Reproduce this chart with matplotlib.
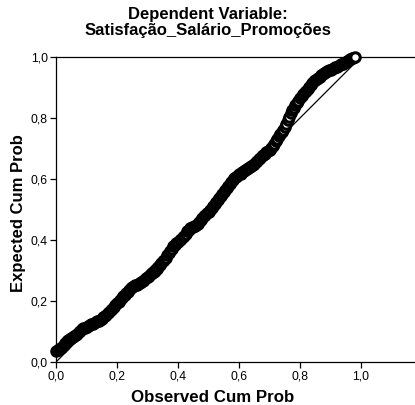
import matplotlib
matplotlib.use("Agg")
import matplotlib.pyplot as plt

title_lines = ["Dependent Variable:", "Satisfação_Salário_Promoções"]
x_label = "Observed Cum Prob"
y_label = "Expected Cum Prob"
tick_values = [0.0, 0.2, 0.4, 0.6, 0.8, 1.0]
tick_labels = ["0,0", "0,2", "0,4", "0,6", "0,8", "1,0"]

observed = [
    0.000, 0.005, 0.010, 0.015, 0.020, 0.025, 0.030, 0.035, 0.040, 0.045,
    0.050, 0.055, 0.060, 0.065, 0.070, 0.075, 0.080, 0.085, 0.090, 0.095,
    0.100, 0.105, 0.110, 0.115, 0.120, 0.125, 0.130, 0.135, 0.140, 0.145,
    0.150, 0.155, 0.160, 0.165, 0.170, 0.175, 0.180, 0.185, 0.190, 0.195,
    0.200, 0.205, 0.210, 0.215, 0.220, 0.225, 0.230, 0.235, 0.240, 0.245,
    0.250, 0.255, 0.260, 0.265, 0.270, 0.275, 0.280, 0.285, 0.290, 0.295,
    0.300, 0.305, 0.310, 0.315, 0.320, 0.325, 0.330, 0.335, 0.340, 0.345,
    0.350, 0.355, 0.360, 0.365, 0.370, 0.375, 0.380, 0.385, 0.390, 0.395,
    0.400, 0.405, 0.410, 0.415, 0.420, 0.425, 0.430, 0.435, 0.440, 0.445,
    0.450, 0.455, 0.460, 0.465, 0.470, 0.475, 0.480, 0.485, 0.490, 0.495,
    0.500, 0.505, 0.510, 0.515, 0.520, 0.525, 0.530, 0.535, 0.540, 0.545,
    0.550, 0.555, 0.560, 0.565, 0.570, 0.575, 0.580, 0.585, 0.590, 0.595,
    0.600, 0.605, 0.610, 0.615, 0.620, 0.625, 0.630, 0.635, 0.640, 0.645,
    0.650, 0.655, 0.660, 0.665, 0.670, 0.675, 0.680, 0.685, 0.690, 0.695,
    0.700, 0.705, 0.710, 0.715, 0.720, 0.725, 0.730, 0.735, 0.740, 0.745,
    0.750, 0.755, 0.760, 0.765, 0.770, 0.775, 0.780, 0.785, 0.790, 0.795,
    0.800, 0.805, 0.810, 0.815, 0.820, 0.825, 0.830, 0.835, 0.840, 0.845,
    0.850, 0.855, 0.860, 0.865, 0.870, 0.875, 0.880, 0.885, 0.890, 0.895,
    0.900, 0.905, 0.910, 0.915, 0.920, 0.925, 0.930, 0.935, 0.940, 0.945,
    0.950, 0.955, 0.960, 0.965, 0.970, 0.975, 0.980]
expected = [
    0.035, 0.038, 0.042, 0.046, 0.050, 0.056, 0.062, 0.068, 0.072, 0.075,
    0.078, 0.082, 0.085, 0.089, 0.093, 0.098, 0.102, 0.107, 0.110, 0.112,
    0.114, 0.117, 0.120, 0.123, 0.125, 0.127, 0.130, 0.133, 0.136, 0.139,
    0.142, 0.146, 0.151, 0.155, 0.160, 0.165, 0.170, 0.175, 0.180, 0.186,
    0.192, 0.198, 0.204, 0.210, 0.215, 0.221, 0.226, 0.231, 0.236, 0.241,
    0.245, 0.248, 0.251, 0.254, 0.257, 0.260, 0.263, 0.266, 0.270, 0.275,
    0.279, 0.283, 0.287, 0.291, 0.295, 0.300, 0.305, 0.311, 0.318, 0.324,
    0.330, 0.336, 0.342, 0.350, 0.357, 0.365, 0.372, 0.379, 0.385, 0.390,
    0.395, 0.400, 0.404, 0.409, 0.414, 0.421, 0.428, 0.434, 0.438, 0.441,
    0.443, 0.445, 0.448, 0.453, 0.458, 0.465, 0.472, 0.478, 0.483, 0.488,
    0.493, 0.499, 0.505, 0.511, 0.518, 0.525, 0.532, 0.538, 0.545, 0.551,
    0.558, 0.565, 0.572, 0.578, 0.585, 0.591, 0.597, 0.602, 0.607, 0.611,
    0.615, 0.618, 0.622, 0.626, 0.630, 0.634, 0.637, 0.640, 0.643, 0.646,
    0.650, 0.655, 0.660, 0.665, 0.670, 0.674, 0.678, 0.683, 0.687, 0.691,
    0.695, 0.701, 0.708, 0.716, 0.724, 0.732, 0.740, 0.747, 0.754, 0.761,
    0.770, 0.781, 0.792, 0.804, 0.815, 0.825, 0.834, 0.842, 0.850, 0.857,
    0.864, 0.871, 0.878, 0.884, 0.890, 0.896, 0.902, 0.909, 0.915, 0.920,
    0.925, 0.929, 0.932, 0.936, 0.940, 0.944, 0.948, 0.951, 0.953, 0.956,
    0.958, 0.961, 0.963, 0.966, 0.968, 0.971, 0.974, 0.976, 0.978, 0.981,
    0.983, 0.987, 0.990, 0.993, 0.996, 0.998, 1.000]
ref_line = [0.0, 1.0]

plt.rcParams["font.family"] = ["Liberation Sans", "DejaVu Sans"]

fig = plt.figure(figsize=(4.15, 4.05), dpi=100)
ax = fig.add_axes([56 / 415, 1 - 362 / 405, (415 - 56) / 415, (362 - 57) / 405])

ax.plot(ref_line, ref_line, color="black", linewidth=0.9, zorder=2)
ax.plot(observed, expected, linestyle="none", marker="o", markersize=6.8,
        markerfacecolor="white", markeredgecolor="black", markeredgewidth=2.2,
        zorder=3, clip_on=False)

ax.set_xlim(0, 359 / 305)
ax.set_ylim(0, 1.0)
ax.set_xticks(tick_values)
ax.set_xticklabels(tick_labels)
ax.set_yticks(tick_values)
ax.set_yticklabels(tick_labels)
ax.tick_params(axis="both", direction="out", length=4, width=0.9, labelsize=8.8,
               pad=2, colors="black")
ax.spines["right"].set_visible(False)
for s in ["left", "bottom", "top"]:
    ax.spines[s].set_linewidth(0.9)
    ax.spines[s].set_color("black")

fig.text(0.5, 1 - 14 / 405, title_lines[0], ha="center", va="center",
         fontsize=12, fontweight="bold")
fig.text(0.5, 1 - 30 / 405, title_lines[1], ha="center", va="center",
         fontsize=12, fontweight="bold")
fig.text(213 / 415, 1 - 397 / 405, x_label, ha="center", va="center",
         fontsize=12.2, fontweight="bold")
fig.text(18 / 415, 1 - 213 / 405, y_label, ha="center", va="center",
         rotation=90, fontsize=12, fontweight="bold")

fig.savefig("out.png", dpi=100)
